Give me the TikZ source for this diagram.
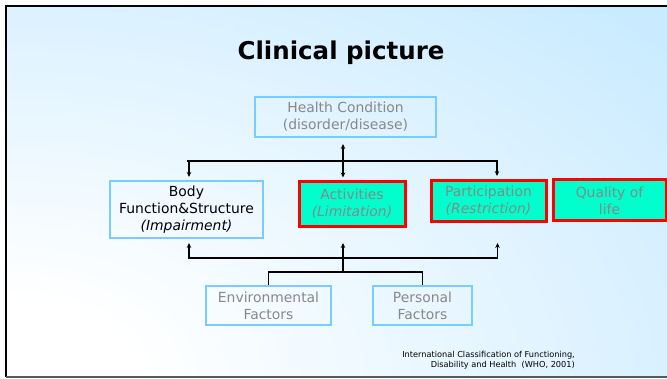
\documentclass[tikz,border=0pt]{standalone}
\usepackage{fontspec}
\setmainfont{DejaVu Sans}
\usetikzlibrary{arrows.meta}

\definecolor{slideblue}{RGB}{202,235,255}
\definecolor{boxedge}{RGB}{120,205,255}
\definecolor{aqua}{RGB}{0,255,204}
\definecolor{softgray}{RGB}{136,136,136}

% white glow in the lower left corner of the slide
\pgfdeclareradialshading{cornerglow}{\pgfpoint{0bp}{0bp}}{%
  color(0bp)=(white); color(3bp)=(white); color(20bp)=(slideblue); color(50bp)=(slideblue)}

\begin{document}
\begin{tikzpicture}[x=1pt,y=-1pt,
  bluebox/.style={draw=boxedge, line width=2pt, align=center, inner sep=0pt,
    text=softgray, font=\fontsize{13.9}{17}\selectfont},
  redbox/.style={draw=red, line width=3pt, fill=aqua, align=center, inner sep=0pt,
    text=softgray, font=\fontsize{13.9}{17}\selectfont},
  conn/.style={draw=black, line width=1.8pt},
  tip/.style={-{Stealth[length=5pt,width=4.5pt]}},
  bothtips/.style={{Stealth[length=5pt,width=4.5pt]}-{Stealth[length=5pt,width=4.5pt]}}
]
\useasboundingbox (0,0) rectangle (667,379);
\fill[white] (0,0) rectangle (667,379);

% slide background: elliptical glow centred on the lower left corner
\begin{scope}
  \clip (6,6) rectangle (667,377);
  \shade[shading=cornerglow] (-1074,-263) rectangle (1086,1017);
\end{scope}
\draw[line width=2.5pt, black] (6,377) -- (6,6) -- (667,6);
\draw[line width=1.5pt, black!65] (6,377) -- (667,377);

% title
\node (title) at (341,53) {\fontsize{24.5}{29}\selectfont\bfseries Clinical picture};

% boxes
\node[bluebox, minimum width=181pt, minimum height=40pt] (hc) at (345.5,117)
  {Health Condition\\(disorder/disease)};
\node[bluebox, text=black, minimum width=153pt, minimum height=57pt] (body) at (186.5,209.5)
  {Body\\Function\&Structure\\\textit{(Impairment)}};
\node[redbox, minimum width=106pt, minimum height=45pt] (act) at (352,204)
  {Activities\\\textit{(Limitation)}};
\node[redbox, minimum width=115pt, minimum height=41pt] (part) at (488.5,201)
  {Participation\\\textit{(Restriction)}};
\node[redbox, minimum width=113pt, minimum height=41pt] (qol) at (609.5,200.5)
  {Quality of\\life};
\node[bluebox, minimum width=125pt, minimum height=39pt] (env) at (268.5,305.5)
  {Environmental\\Factors};
\node[bluebox, minimum width=99pt, minimum height=39pt] (pers) at (422.5,305.5)
  {Personal\\Factors};

% junctions of the connector tree
\coordinate (jt) at (343,161);
\coordinate (jb) at (343,258);
\coordinate (jm) at (343,272);

% upper tree
\draw[conn, tip, shorten >=3pt] (jt) -| ([xshift=2.5pt]body.north);
\draw[conn, tip, shorten >=3pt] (jt) -| ([xshift=8.5pt]part.north);
\draw[conn] (jt) -- (jt -| body.north);
\draw[conn, bothtips, shorten <=6pt, shorten >=2.5pt] (jt |- hc.south) -- (jt |- act.north);

% lower tree
\draw[conn, tip, shorten >=4pt] (jb) -| ([xshift=2.5pt]body.south);
\draw[conn, tip, shorten >=15pt] (jb) -- (jt |- act.south);
\draw[conn, tip, shorten >=20pt] (jb) -| ([xshift=9pt]part.south);
\draw[conn] (jb) -- (jm);
\draw[conn] (env.north) |- (jm) -| (pers.north);

% source note
\node[align=right, anchor=east, font=\fontsize{8.2}{10.5}\selectfont, inner sep=0pt] (note) at (575,360)
  {International Classification of Functioning,\\Disability and Health\ \ (WHO, 2001)};
\end{tikzpicture}
\end{document}
